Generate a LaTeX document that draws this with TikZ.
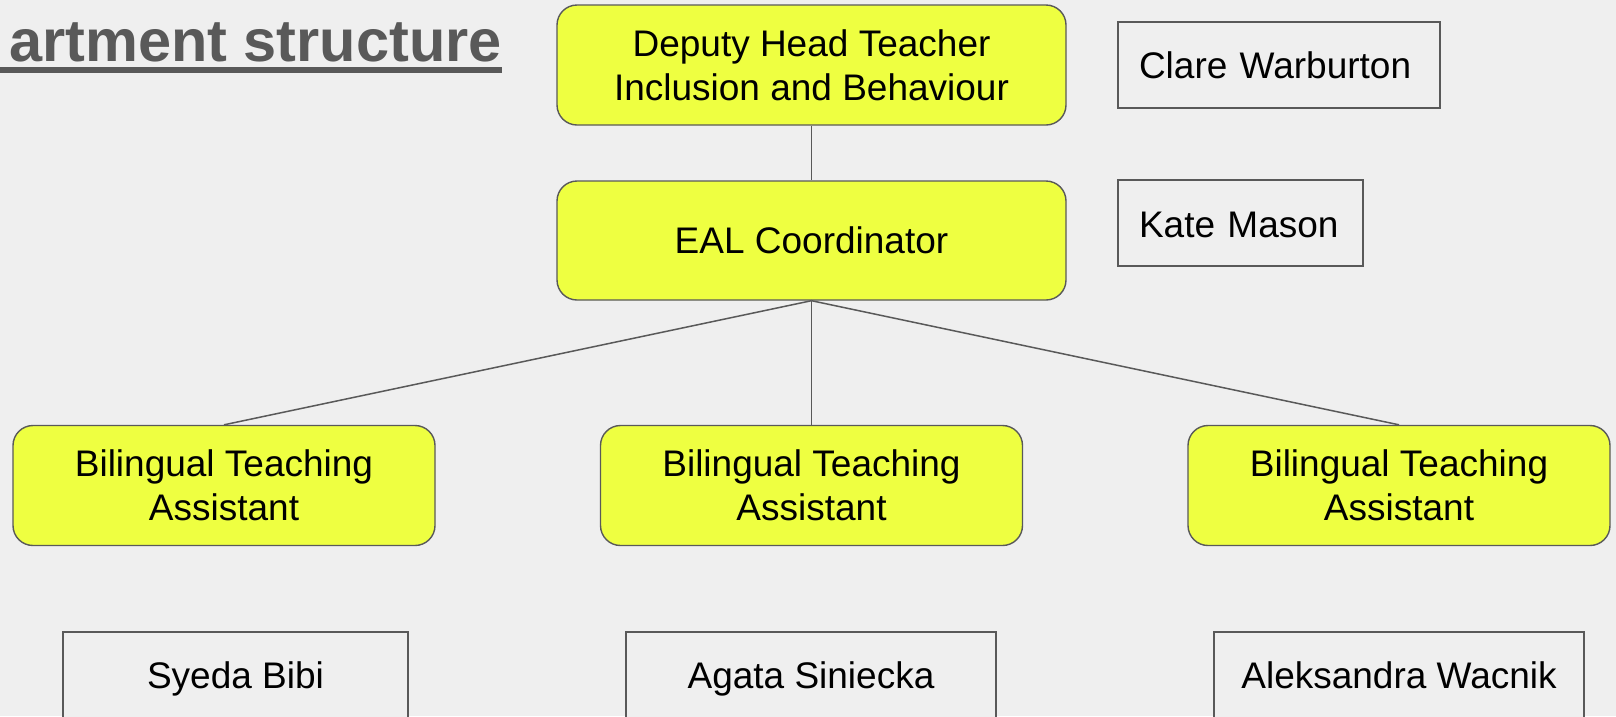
\documentclass[tikz,border=0pt]{standalone}
\usepackage{fontspec}
\setmainfont{Liberation Sans}
\definecolor{bg}{HTML}{EFEFEF}
\definecolor{lime}{HTML}{EEFF41}
\definecolor{edge}{HTML}{595959}
\begin{document}
\begin{tikzpicture}[x=1pt,y=-1pt,
  role/.style={draw=edge, line width=1.4pt, fill=lime, rounded corners=20pt, align=center,
    font=\fontsize{37}{44}\selectfont, inner sep=0pt},
  person/.style={draw=edge, line width=1.4pt, fill=bg, font=\fontsize{37}{44}\selectfont, inner sep=0pt,
    text height=26.5pt, text depth=7.5pt},
  link/.style={draw=edge, line width=1.5pt}]
\fill[bg] (0,0) rectangle (1616,716);
\useasboundingbox (0,0) rectangle (1616,716);
\clip (0,0) rectangle (1616,716);
% title
\node[anchor=base east, font=\fontsize{59.5}{72}\selectfont\bfseries, text=edge, inner sep=0pt] (title) at (502,61.7) {artment structure};
\fill[edge] (0,67) rectangle (502,72.5);
% roles
\node[role, minimum width=509pt, minimum height=120pt] (dh) at (811.5,65) {Deputy Head Teacher\\Inclusion and Behaviour};
\node[role, minimum width=509pt, minimum height=119pt] (eal) at (811.5,240.5) {EAL Coordinator};
\node[role, minimum width=422pt, minimum height=120pt] (bta1) at (224,485.5) {Bilingual Teaching\\Assistant};
\node[role, minimum width=422pt, minimum height=120pt] (bta2) at (811.5,485.5) {Bilingual Teaching\\Assistant};
\node[role, minimum width=422pt, minimum height=120pt] (bta3) at (1399,485.5) {Bilingual Teaching\\Assistant};
% people
\node[person, text width=280pt, inner xsep=21pt, minimum height=86pt, align=left, text height=30pt, text depth=4pt] (clare) at (1279,65) {Clare Warburton};
\node[person, text width=203pt, inner xsep=21pt, minimum height=86pt, align=left, text height=31.5pt, text depth=2.5pt] (kate) at (1240.5,223) {Kate Mason};
\node[person, minimum width=345pt, minimum height=93pt] (syeda) at (235.5,678.5) {Syeda Bibi};
\node[person, minimum width=370pt, minimum height=93pt] (agata) at (811,678.5) {Agata Siniecka};
\node[person, minimum width=370pt, minimum height=93pt] (aleks) at (1399,678.5) {Aleksandra Wacnik};
% connectors
\draw[link] (dh.south) -- (eal.north);
\draw[link] (eal.south) -- (bta1.north);
\draw[link] (eal.south) -- (bta2.north);
\draw[link] (eal.south) -- (bta3.north);
\end{tikzpicture}
\end{document}
